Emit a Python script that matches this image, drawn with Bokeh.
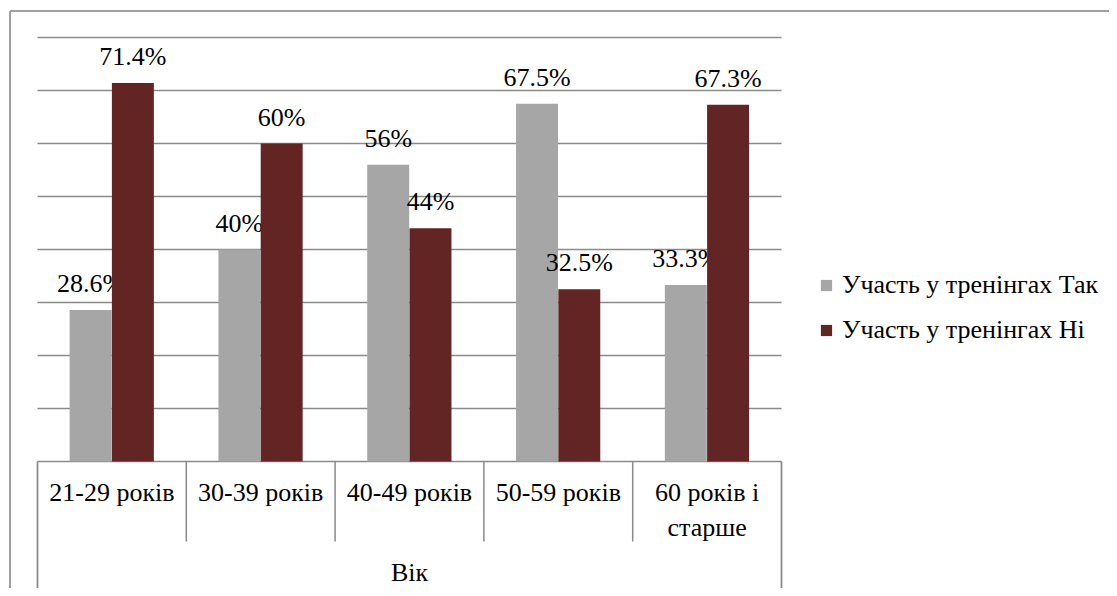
from bokeh.plotting import figure
from bokeh.models import (ColumnDataSource, Range1d, Legend, LegendItem)
from bokeh.transform import dodge
from bokeh.core.properties import value
from bokeh.embed import file_html
from bokeh.resources import INLINE

# ---- data ----
categories = ["21-29 років", "30-39 років", "40-49 років", "50-59 років", "60 років і\nстарше"]
tak = [28.6, 40, 56, 67.5, 33.3]
ni = [71.4, 60, 44, 32.5, 67.3]
series_names = ["Участь у тренінгах Так", "Участь у тренінгах Ні"]
group_label = "Вік"
y_ticks = [10, 20, 30, 40, 50, 60, 70, 80]

def pct(v):
    return f"{v:g}%"

n = len(categories)
src = ColumnDataSource(dict(
    xc=[i + 0.5 for i in range(n)],
    cat=categories,
    tak=tak,
    ni=ni,
    tak_lbl=[pct(v) for v in tak],
    ni_lbl=[pct(v) for v in ni],
))

FONT_NAME = "Liberation Serif"
FONT = value(FONT_NAME)
GRID = "#8a8a8a"
GRAY = "#a6a6a6"
MAROON = "#632523"
W, H = 1109, 588          # canvas size
X0, Y0 = 37, 461          # canvas position of category 0 left edge / value 0
CW = 744 / n              # pixels per category
PX = 424 / 80.0           # pixels per unit

p = figure(
    x_range=Range1d(-X0 / CW, (W - X0) / CW),
    y_range=Range1d(-(H - Y0) / PX, Y0 / PX),
    width=W, height=H, min_border=0,
    x_axis_location=None, y_axis_location=None,
    output_backend="svg", toolbar_location=None,
)
p.outline_line_color = None
p.xgrid.visible = False
p.ygrid.visible = False
p.background_fill_color = "white"
p.border_fill_color = "white"

# outer chart border (top and left)
x_left = (9.5 - X0) / CW
y_top = (Y0 - 10.5) / PX
p.segment(x0=[x_left, x_left], y0=[y_top, y_top], x1=[x_left, (W + 50 - X0) / CW],
          y1=[-(H + 50 - Y0) / PX, y_top], line_color="#a0a0a0", line_width=2)

# horizontal gridlines
p.segment(x0=0, x1=n, y0=y_ticks, y1=y_ticks, line_color=GRID, line_width=1.3)

# category axis box
p.segment(x0=[0], x1=[n], y0=[0], y1=[0], line_color=GRID, line_width=1.5)
p.segment(x0=list(range(1, n)), x1=list(range(1, n)),
          y0=0, y1=-80 / PX, line_color=GRID, line_width=1.5)
p.segment(x0=[0, n], x1=[0, n], y0=0, y1=-(H - Y0) / PX, line_color=GRID, line_width=1.8)

# bars + labels (gray labels sit under maroon bars)
r1 = p.vbar(x=dodge("xc", -0.143), top="tak", width=0.282,
            source=src, fill_color=GRAY, line_color=None)
p.text(x=dodge("xc", -0.143), y="tak", text="tak_lbl", source=src,
       text_font=FONT, text_font_size="26px", text_color="black",
       text_align="center", text_baseline="top", y_offset=-41)
r2 = p.vbar(x=dodge("xc", 0.141), top="ni", width=0.282,
            source=src, fill_color=MAROON, line_color=None)
p.text(x=dodge("xc", 0.141), y="ni", text="ni_lbl", source=src,
       text_font=FONT, text_font_size="26px", text_color="black",
       text_align="center", text_baseline="top", y_offset=-41)

# category labels
p.text(x="xc", y=-16 / PX, text="cat", source=src,
       text_font=FONT, text_font_size="26px", text_color="black",
       text_align="center", text_baseline="top", text_line_height=1.23)
p.text(x=[n / 2], y=[-96 / PX], text=[group_label],
       text_font=FONT, text_font_size="26px", text_color="black",
       text_align="center", text_baseline="top")

legend = Legend(items=[LegendItem(label=series_names[0], renderers=[r1]),
                       LegendItem(label=series_names[1], renderers=[r2])],
                location=(819, 243), orientation="vertical",
                glyph_width=14, glyph_height=14, label_standoff=9,
                label_height=30, spacing=15, padding=0, margin=0,
                border_line_color=None, background_fill_alpha=0,
                label_text_font=FONT_NAME, label_text_font_size="26px",
                label_text_color="black")
p.add_layout(legend, "center")

open("out.html", "w").write(file_html(p, INLINE))
